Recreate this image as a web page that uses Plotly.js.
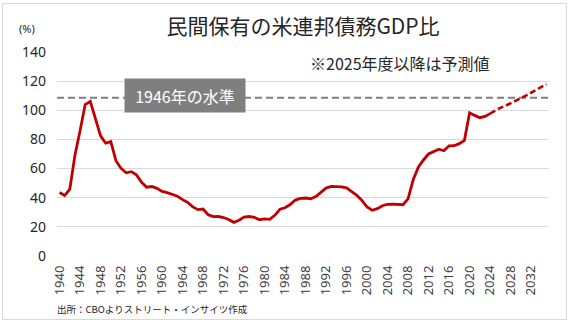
<!DOCTYPE html>
<html>
<head>
<meta charset="utf-8">
<script src="https://cdn.plot.ly/plotly-3.0.1.min.js"></script>
<style>
html,body{margin:0;padding:0;background:#fff;}
#wrap{position:relative;width:570px;height:323px;}
#chart{width:570px;height:323px;}
#frame{position:absolute;left:2px;top:3px;width:563px;height:315px;border:1px solid #d9d9d9;pointer-events:none;}
</style>
</head>
<body>
<div id="wrap"><div id="chart"></div><div id="frame"></div></div>
<script>
// categories
const histYears = [1940,1941,1942,1943,1944,1945,1946,1947,1948,1949,1950,1951,1952,1953,1954,1955,1956,1957,1958,1959,
  1960,1961,1962,1963,1964,1965,1966,1967,1968,1969,1970,1971,1972,1973,1974,1975,1976,1977,1978,1979,
  1980,1981,1982,1983,1984,1985,1986,1987,1988,1989,1990,1991,1992,1993,1994,1995,1996,1997,1998,1999,
  2000,2001,2002,2003,2004,2005,2006,2007,2008,2009,2010,2011,2012,2013,2014,2015,2016,2017,2018,2019,
  2020,2021,2022,2023,2024];
// debt held by the public, % of GDP (actual)
const histValues = [43.6,41.5,45.9,69.2,86.0,103.9,106.1,93.9,82.4,77.4,78.5,65.4,60.1,57.1,57.9,55.7,50.6,47.2,47.7,46.4,
  44.3,43.5,42.3,41.0,38.7,36.7,33.7,31.8,32.2,28.3,27.0,27.1,26.4,25.1,23.1,24.5,26.7,27.1,26.6,24.9,
  25.5,25.2,27.9,32.1,33.1,35.3,38.4,39.5,39.8,39.3,40.8,44.0,46.6,47.8,47.7,47.5,46.8,44.5,41.6,38.2,
  33.6,31.4,32.5,34.5,35.5,35.6,35.3,35.2,39.2,52.3,60.9,65.9,70.0,71.9,73.3,72.2,75.6,75.7,77.1,79.4,
  98.3,96.5,94.9,95.8,97.7];
// projection (from 2024 so the dashed line joins)
const projYears = [2024,2025,2026,2027,2028,2029,2030,2031,2032,2033,2034,2035];
const projValues = [97.7,99.9,101.7,103.1,104.7,106.5,108.3,110.1,112.0,113.9,115.8,117.9];
const level1946 = 108.6;
const xTicks = [1940,1944,1948,1952,1956,1960,1964,1968,1972,1976,1980,1984,1988,1992,1996,2000,2004,2008,2012,2016,2020,2024,2028,2032];
const yTicks = [0,20,40,60,80,100,120,140];

const RED = '#C00000';
const JP = '"Noto Sans CJK JP", "Noto Sans", sans-serif';
const NUM = '"Noto Sans", "Noto Sans CJK JP", sans-serif';

const traces = [
  {x: histYears, y: histValues, type: 'scatter', mode: 'lines',
   line: {color: RED, width: 2.8}, hoverinfo: 'skip', showlegend: false},
  {x: projYears, y: projValues, type: 'scatter', mode: 'lines',
   line: {color: RED, width: 2.6, dash: '6px,3px'}, hoverinfo: 'skip', showlegend: false}
];

const layout = {
  width: 570, height: 323,
  margin: {l: 57, r: 21, t: 52, b: 67},
  paper_bgcolor: '#fff', plot_bgcolor: '#fff',
  font: {family: JP, color: '#262626'},
  title: {text: '民間保有の米連邦債務GDP比', font: {family: JP, size: 21, color: '#262626'},
          x: 303/570, xref: 'container', xanchor: 'center', y: 1 - 27/323, yref: 'container', yanchor: 'middle'},
  xaxis: {range: [1939.5, 2035.5], tickmode: 'array', tickvals: xTicks, ticktext: xTicks.map(String),
          tickangle: -90, showgrid: false, zeroline: false, showline: false, ticks: '',
          tickfont: {family: NUM, size: 13, color: '#404040'}, ticklabelstandoff: 6, fixedrange: true},
  yaxis: {range: [0, 140], tickmode: 'array', tickvals: yTicks, showgrid: true, gridcolor: '#d9d9d9', gridwidth: 1,
          zeroline: false, showline: false, ticks: '',
          tickfont: {family: NUM, size: 14, color: '#262626'}, ticklabelstandoff: 10, fixedrange: true},
  shapes: [
    {type: 'line', xref: 'paper', x0: 0, x1: 1, yref: 'y', y0: level1946, y1: level1946,
     line: {color: '#808080', width: 2, dash: '7px,4px'}, layer: 'below'}
  ],
  annotations: [
    {text: '1946年の水準', xref: 'paper', yref: 'paper', x: (185-57)/492, y: (256-95.5)/204, xanchor: 'center', yanchor: 'middle',
     showarrow: false, bgcolor: '#7f7f7f', font: {family: JP, size: 16, color: '#ffffff'},
     width: 118, height: 31, borderpad: 1},
    {text: '※2025年度以降は予測値', xref: 'paper', yref: 'paper', x: (400-57)/492, y: (256-63)/204,
     xanchor: 'center', yanchor: 'middle', showarrow: false, font: {family: JP, size: 16, color: '#262626'}},
    {text: '(%)', xref: 'paper', yref: 'paper', x: (27-57)/492, y: (256-29)/204, xanchor: 'center', yanchor: 'middle',
     showarrow: false, font: {family: NUM, size: 11, color: '#262626'}},
    {text: '出所：CBOよりストリート・インサイツ作成', xref: 'paper', yref: 'paper', x: (55-57)/492, y: (256-309)/204,
     xanchor: 'left', yanchor: 'middle', showarrow: false, font: {family: JP, size: 9.5, color: '#262626'}}
  ]
};

Plotly.newPlot('chart', traces, layout, {staticPlot: true, displayModeBar: false});
</script>
</body>
</html>
